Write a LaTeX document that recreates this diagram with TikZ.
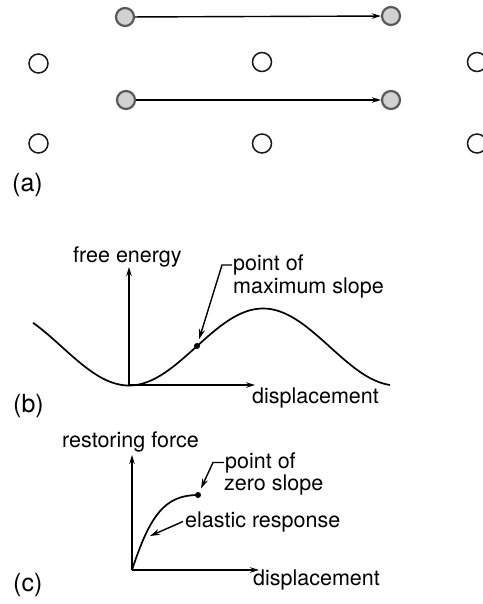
\documentclass[tikz,border=0pt]{standalone}
\usepackage{fontspec}
\setmainfont{TeX Gyre Heros}
\usetikzlibrary{arrows.meta}
\begin{document}
\begin{tikzpicture}[x=1pt,y=-1pt,
  wcirc/.style={circle,draw=black!90,line width=1.5pt,minimum size=19pt,inner sep=0pt},
  gcirc/.style={circle,draw=black!65,fill=black!18,line width=2.2pt,minimum size=18pt,inner sep=0pt},
  arr/.style={line width=1.4pt,-{Stealth[length=9pt,width=5.5pt]}},
  ptr/.style={line width=1.4pt,-{Stealth[length=10pt,width=6pt]}},
  curve/.style={line width=1.7pt},
  dot/.style={circle,fill=black,inner sep=0pt,minimum size=6pt},
  lbl/.style={font=\fontsize{21.5}{23}\selectfont,inner sep=0pt,anchor=base west},
  plbl/.style={font=\fontsize{25}{27}\selectfont,inner sep=0pt,anchor=base west}]
\useasboundingbox (0,0) rectangle (482,604);
% (a)
\node[gcirc] (g1) at (125,17) {};
\node[gcirc] (g2) at (391,16) {};
\node[gcirc] (g3) at (126,100) {};
\node[gcirc] (g4) at (391,100) {};
\draw[arr] (g1) -- (g2);
\draw[arr] (g3) -- (g4);
\node[wcirc] (w1) at (38.5,63.5) {};
\node[wcirc] (w2) at (262,62) {};
\node[wcirc] (w3) at (477,62) {};
\node[wcirc] (w4) at (38.5,143.5) {};
\node[wcirc] (w5) at (262,143.5) {};
\node[wcirc] (w6) at (477,143.5) {};
\node[plbl] (la) at (12,191) {(a)};
% (b)
\coordinate (ob) at (129,385);
\coordinate (yb) at (129,267);
\coordinate (xb) at (255,385);
\draw[arr] (ob) -- (yb);
\draw[arr] (ob) -- (xb);
\draw[curve] plot[domain=33:390,samples=120] (\x,{347+38.5*cos((\x-129)/134*180)});
\node[dot] (pb) at (197,346) {};
\node[lbl] (fe) at (73,262) {free energy};
\node[lbl] (pofb) at (233,270.5) {point of};
\node[lbl] (msb) at (233,293) {maximum slope};
\node[lbl] (dispb) at (252,403) {displacement};
\node[plbl] (lb) at (13,412) {(b)};
\coordinate (kb) at (222,263);
\draw[ptr,shorten >=4pt] ([xshift=-1pt]pofb.west) -- (kb |- pofb.west) -- (pb);
% (c)
\coordinate (oc) at (132,570);
\coordinate (yc) at (132,455);
\coordinate (xc) at (259,570);
\draw[arr] (oc) -- (yc);
\draw[arr] (oc) -- (xc);
\node[dot] (pc) at (198,495) {};
\draw[curve] (oc) .. controls (150,515) and (165,495) .. (pc.center);
\node[lbl] (rf) at (62,447) {restoring force};
\node[lbl] (pofc) at (225,468) {point of};
\node[lbl] (zsc) at (224,490) {zero slope};
\node[lbl] (er) at (185,527) {elastic response};
\node[lbl] (dispc) at (253,585) {displacement};
\node[plbl] (lc) at (13,591) {(c)};
\coordinate (kc) at (213,458);
\draw[ptr,shorten >=4pt] ([xshift=-1pt]pofc.west) -- (kc |- pofc.west) -- (pc);
\coordinate (te) at (150,536);
\draw[ptr] ([xshift=-2pt]er.west) -- (te);
\end{tikzpicture}
\end{document}
